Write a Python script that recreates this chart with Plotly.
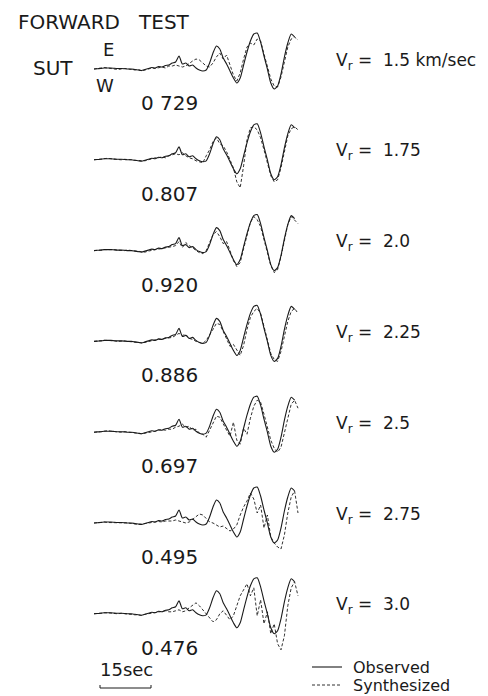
import plotly.graph_objects as go

# ---------------- data ----------------
TIME_S = list(range(61))  # seconds, 1 s samples

OBSERVED = [0, 0.3, 0.5, 1, 1, 1, 0.7, 0.5, 0.5, 0.3,
            0, 0, -0.5, -1, -1.5, -0.5, 0.5, 1.5, 1, 2.5,
            2, 3.5, 4, 6, 7, 13, 5, 6, 3, 4,
            1, -1, -2, -1, 6, 16, 23, 20, 11, 5,
            -2, -9, -14, -9, 4, 17, 28, 35, 36, 27,
            13, 0, -14, -20, -17, -5, 12, 26, 35, 32]

SYN_1_5 = [0, 0.5, 1, 1.5, 1, 0.5, 0, -0.5, 0, 0.5, 0, -0.5, -1, -0.5, -2, -1, 0, 1, 0.5, 1, 2, 1, 3,
           3, 4, 3, 2, 3, 6, 8, 10, 9, 6, 3, 2, 6, 12, 16, 10, 14, 4, -6, -12, -4, 10, 22, 26, 24, 30,
           28, 15, 2, -10, -17, -18, -8, 8, 22, 30, 32, 29]
SYN_1_75 = [0, 0.5, 0.5, 1, 1.5, 1, 0.5, 0, 0, 0.5, 0.5, 0, -0.5, -0.5, -1, -1, 0, 1, 2, 2, 3, 2, 4,
            5, 6, 5, 7, 4, 2, 1, -1, -2, -3, 4, 10, 18, 22, 16, 14, 8, 0, -8, -22, -28, -6, 20, 32, 33,
            30, 22, 10, -4, -16, -22, -20, -8, 10, 24, 31, 33, 30]
SYN_2_0 = [0, 0, 0.5, 1, 1, 1.5, 1, 0.5, 0, 0, 0.5, 0, -0.5, -1, -1, -1.5, -0.5, 0.5, 1, 1.5, 2, 3, 3,
           4, 5, 9, 3, 8, 5, 3, 0, -2, -3, 0, 8, 16, 19, 14, 7, 9, 0, -10, -16, -12, 2, 16, 28, 34, 31,
           24, 10, -3, -15, -22, -19, -6, 12, 26, 34, 30, 27]
SYN_2_25 = [0, 0.5, 0.5, 1, 1, 1, 0.5, 0, 0.5, 0.5, 0, -0.5, -1, -1, -1.5, -1, 0, 0.5, 1.5, 2, 2, 3, 3.5,
            4, 6, 8, 6, 7, 3, 2, 0, -1, -2, 1, 6, 12, 18, 17, 10, 3, -5, -3, -8, -14, -4, 12, 24, 30,
            33, 28, 15, 2, -12, -18, -20, -10, 6, 20, 30, 33, 28]
SYN_2_5 = [0, 0, 0.5, 1, 1.5, 1, 0.5, 0, 0, 0.5, 0, 0, -1, -1, -1.5, -1, -0.5, 0.5, 1, 2, 2.5, 2, 3,
           3, 5, 6, 8, 5, 6, 2, 3, -1, -2, -5, 2, 10, 16, 15, 8, 2, -4, 10, -8, -12, 4, -2, 14, 26,
           32, 30, 18, 4, -8, -16, -20, -15, 0, 16, 28, 32, 24]
SYN_2_75 = [0, 0.5, 1, 1, 0.5, 0.5, 0, 0, 0.5, 0.5, 0, -0.5, -1, -1.5, -1, -0.5, 0, 0.5, 1, 1.5, 1, 2, 2,
            2, 3, 2, 1, 0, 1, 4, 7, 9, 8, 4, 1, 0, -2, -4, -3, -6, -8, -6, -2, 8, 16, 22, 30, 24,
            10, 18, -5, 8, -14, -20, -24, -26, -12, 10, 26, 32, 10]
SYN_3_0 = [0, 0.5, 0.5, 1, 1, 0.5, 0, 0, 0.5, 0, 0, -0.5, -1, -1, -1.5, -0.5, 0, 1, 1, 2, 2, 3, 2,
           2, 3, 4, 2, 3, 6, 9, 11, 8, 4, 0, -4, -8, -6, 0, 3, -2, -6, -2, 8, 18, 24, 30, 18, 26,
           -2, 14, -10, 2, -20, -10, -30, -36, -22, 8, 26, 32, 18]

SYNTHESIZED = [SYN_1_5, SYN_1_75, SYN_2_0, SYN_2_25, SYN_2_5, SYN_2_75, SYN_3_0]
VR_LABELS = ["1.5 km/sec", "1.75", "2.0", "2.25", "2.5", "2.75", "3.0"]
CORRELATIONS = ["0 729", "0.807", "0.920", "0.886", "0.697", "0.495", "0.476"]
SCALE_SEC = 15

# ---------------- layout helpers ----------------
W, H = 488, 696
X0_PX, PX_PER_S = 86.0, 3.4
T_MIN = -X0_PX / PX_PER_S
T_MAX = (W - X0_PX) / PX_PER_S
BASE0, ROW_DY = 61.0, 90.8
FONT = "DejaVu Sans"
INK = "#1a1a1a"

fig = go.Figure()

for k, syn in enumerate(SYNTHESIZED):
    base = BASE0 + ROW_DY * k
    fig.add_trace(go.Scatter(
        x=TIME_S[:len(OBSERVED)], y=[base - a for a in OBSERVED], mode="lines",
        line=dict(color=INK, width=1.1, shape="spline", smoothing=0.6),
        showlegend=False, hoverinfo="skip"))
    fig.add_trace(go.Scatter(
        x=TIME_S[:len(syn)], y=[base - a for a in syn], mode="lines",
        line=dict(color=INK, width=0.9, dash="3px,2px"),
        showlegend=False, hoverinfo="skip"))


def px_to_t(px):
    return T_MIN + px / PX_PER_S


# scale bar (15 s)
bar_t0 = px_to_t(92)
bar_y = 680
fig.add_trace(go.Scatter(
    x=[bar_t0, bar_t0, bar_t0 + SCALE_SEC, bar_t0 + SCALE_SEC],
    y=[bar_y - 3, bar_y, bar_y, bar_y - 3], mode="lines",
    line=dict(color=INK, width=1), showlegend=False, hoverinfo="skip"))

# legend samples
fig.add_trace(go.Scatter(x=[px_to_t(304), px_to_t(334)], y=[659, 659], mode="lines",
                         line=dict(color=INK, width=1.1), showlegend=False, hoverinfo="skip"))
fig.add_trace(go.Scatter(x=[px_to_t(304), px_to_t(334)], y=[677, 677], mode="lines",
                         line=dict(color=INK, width=0.9, dash="3px,2px"), showlegend=False,
                         hoverinfo="skip"))

ann = []


def text(s, px, py, size, xanchor="left"):
    ann.append(dict(text=s, x=px / W, y=1 - py / H, xref="paper", yref="paper",
                    xanchor=xanchor, yanchor="middle", showarrow=False,
                    font=dict(family=FONT, size=size, color=INK)))


text("FORWARD   TEST", 8, 14, 20)
text("SUT", 23, 60, 20)
text("E", 100, 42, 18, xanchor="center")
text("W", 97, 77, 18, xanchor="center")

for k in range(len(SYNTHESIZED)):
    text(CORRELATIONS[k], 131, 95 + ROW_DY * k, 20)
    text("V<sub>r</sub> =  " + VR_LABELS[k], 326, 53 + ROW_DY * k, 17)

text("15sec", 90, 661, 18)
text("Observed", 343, 659, 16)
text("Synthesized", 343, 677, 16)

fig.update_layout(
    width=W, height=H, margin=dict(l=0, r=0, t=0, b=0),
    paper_bgcolor="white", plot_bgcolor="white",
    xaxis=dict(range=[T_MIN, T_MAX], visible=False, fixedrange=True),
    yaxis=dict(range=[H, 0], visible=False, fixedrange=True),
    annotations=ann, showlegend=False)

fig.write_html("out.html")
